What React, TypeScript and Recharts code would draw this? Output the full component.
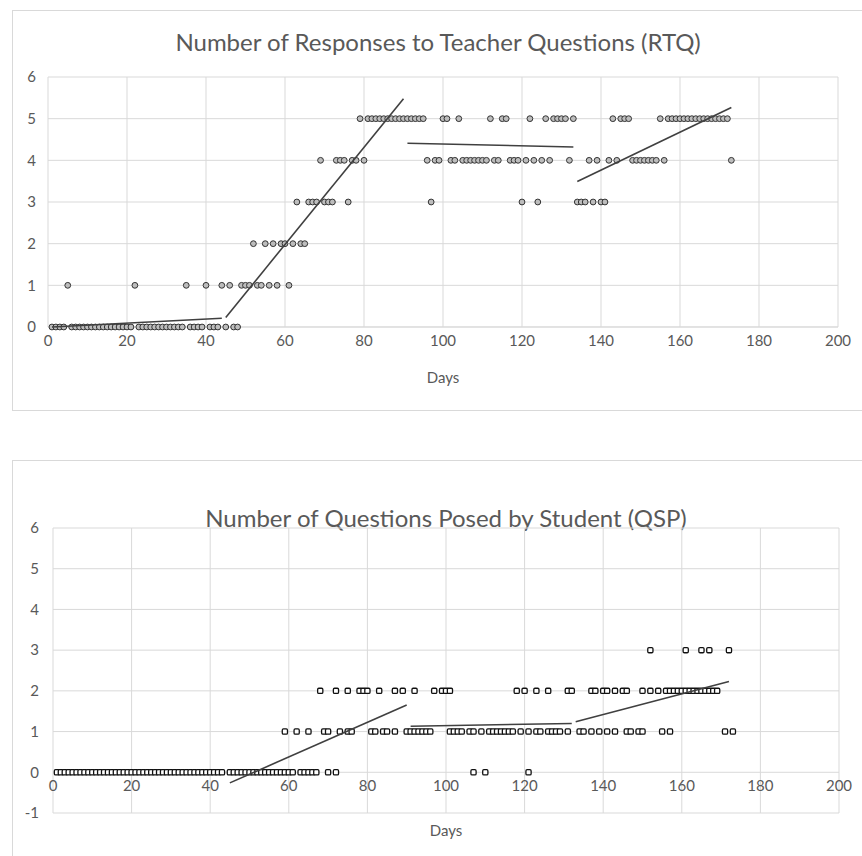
import { CartesianGrid, Scatter, ScatterChart, XAxis, YAxis } from 'recharts'

// x axis (days) shared by both charts
const dayTicks = [0, 20, 40, 60, 80, 100, 120, 140, 160, 180, 200]

// RTQ: days on which each response count was recorded
const rtqTicks = [0, 1, 2, 3, 4, 5, 6]
const rtqZeroDays = [
  1, 2, 3, 4, 6, 7, 8, 9, 10, 11, 12, 13, 14, 15, 16, 17, 18, 19, 20, 21, 23, 24, 25, 26, 27, 28, 29, 30, 31, 32,
  33, 34, 36, 37, 38, 39, 41, 42, 43, 45, 47, 48,
]
const rtqOneDays = [5, 22, 35, 40, 44, 46, 49, 50, 51, 53, 54, 56, 58, 61]
const rtqTwoDays = [52, 55, 57, 59, 60, 62, 64, 65]
const rtqThreeDays = [63, 66, 67, 68, 70, 71, 72, 76, 97, 120, 124, 134, 135, 136, 138, 140, 141]
const rtqFourDays = [
  69, 73, 74, 75, 77, 78, 80, 96, 98, 99, 102, 103, 105, 106, 107, 108, 109, 110, 111, 113, 114, 117, 118, 119, 121,
  123, 125, 127, 132, 137, 139, 142, 144, 148, 149, 150, 151, 152, 153, 154, 156, 173,
]
const rtqFiveDays = [
  79, 81, 82, 83, 84, 85, 86, 87, 88, 89, 90, 91, 92, 93, 94, 95, 100, 101, 104, 112, 115, 116, 122, 126, 128, 129,
  130, 131, 133, 143, 145, 146, 147, 155, 157, 158, 159, 160, 161, 162, 163, 164, 165, 166, 167, 168, 169, 170, 171,
  172,
]
// phase trend lines [day, value] endpoints
const rtqTrends = [
  [[1, 0.0], [44, 0.21]],
  [[45, 0.23], [90, 5.48]],
  [[91, 4.41], [133, 4.32]],
  [[134, 3.49], [173, 5.27]],
]

// QSP
const qspTicks = [-1, 0, 1, 2, 3, 4, 5, 6]
const qspZeroDays = [
  1, 2, 3, 4, 5, 6, 7, 8, 9, 10, 11, 12, 13, 14, 15, 16, 17, 18, 19, 20, 21, 22, 23, 24, 25, 26, 27, 28, 29, 30, 31,
  32, 33, 34, 35, 36, 37, 38, 39, 40, 41, 42, 43, 45, 46, 47, 48, 49, 50, 51, 52, 53, 54, 55, 56, 57, 58, 59, 60,
  61, 63, 64, 65, 66, 67, 70, 72, 107, 110, 121,
]
const qspOneDays = [
  59, 62, 65, 69, 70, 73, 75, 76, 81, 82, 84, 85, 87, 90, 91, 92, 93, 94, 95, 96, 101, 102, 103, 104, 106, 107, 109,
  111, 112, 113, 114, 115, 116, 117, 119, 121, 123, 124, 126, 127, 128, 129, 131, 134, 135, 137, 139, 141, 143, 146,
  147, 149, 150, 155, 157, 171, 173,
]
const qspTwoDays = [
  68, 72, 75, 78, 79, 80, 83, 87, 89, 92, 97, 99, 100, 101, 118, 120, 123, 126, 131, 132, 137, 138, 140, 141, 143,
  145, 146, 150, 152, 154, 156, 157, 158, 159, 160, 161, 162, 163, 164, 165, 166, 167, 168, 169,
]
const qspThreeDays = [152, 161, 165, 167, 172]
const qspTrends = [
  [[45, -0.26], [90, 1.65]],
  [[91, 1.13], [132, 1.2]],
  [[133, 1.24], [172, 2.23]],
]

const toPoints = (levels: number[][]) =>
  levels.flatMap((days, value) => days.map((day) => ({ day, value })))

const rtqPoints = toPoints([rtqZeroDays, rtqOneDays, rtqTwoDays, rtqThreeDays, rtqFourDays, rtqFiveDays])
const qspPoints = toPoints([qspZeroDays, qspOneDays, qspTwoDays, qspThreeDays])
const toTrend = (seg: number[][]) => seg.map(([day, value]) => ({ day, value }))

const FONT = 'Lato, "Open Sans", sans-serif'
const TEXT = '#595959'
const GRID = '#d9d9d9'
const LINE = '#404040'

const tickStyle = { fill: TEXT, fontSize: 15, fontFamily: FONT }

const circleDot = (p: any) => (
  <circle cx={p.cx} cy={p.cy} r={2.9} fill="#bdbdbd" stroke="#333" strokeWidth={1} />
)
const squareDot = (p: any) => (
  <rect x={p.cx - 2.6} y={p.cy - 2.6} width={5.2} height={5.2} rx={1.2} fill="#fff" stroke="#111" strokeWidth={1.3} />
)
const noDot = () => <g />

const panel = (top: number, height: number): React.CSSProperties => ({
  position: 'absolute',
  left: 12,
  top,
  width: 851,
  height,
  border: `1px solid ${GRID}`,
  boxSizing: 'border-box',
  background: '#fff',
})

const titleStyle: React.CSSProperties = {
  position: 'absolute',
  left: 0,
  width: 850,
  textAlign: 'center',
  fontFamily: FONT,
  fontSize: 24,
  color: TEXT,
  lineHeight: '28px',
}

// bottom chart geometry (x labels sit on the y=0 line, one unit above the plot floor)
const QSP_W = 850
const QSP_H = 396
const QSP_MARGIN = { top: 68, right: 23, left: 0, bottom: 7 }
const QSP_XH = 36
const qspUnit =
  (QSP_H - QSP_MARGIN.top - QSP_MARGIN.bottom - QSP_XH) / (qspTicks[qspTicks.length - 1] - qspTicks[0])

const QspDayTick = (p: any) => (
  <text x={p.x} y={p.y - qspUnit} dy="0.71em" textAnchor="middle" {...tickStyle}>
    {p.payload.value}
  </text>
)

export default function App() {
  return (
    <div style={{ position: 'absolute', left: 0, top: 0, width: 862, height: 856, overflow: 'hidden', background: '#fff' }}>
      <div style={panel(10, 401)}>
        <div style={{ ...titleStyle, top: 17 }}>Number of Responses to Teacher Questions (RTQ)</div>
        <div style={{ position: 'absolute', left: -1, top: -1 }}>
          <ScatterChart width={850} height={400} margin={{ top: 67, right: 24, left: 0, bottom: 23 }}>
            <CartesianGrid stroke={GRID} />
            <XAxis
              type="number"
              dataKey="day"
              domain={[0, 200]}
              ticks={dayTicks}
              tickLine={false}
              axisLine={{ stroke: GRID }}
              tick={tickStyle}
              height={60}
              label={{ value: 'Days', position: 'insideBottom', offset: 4, fill: TEXT, fontSize: 15, fontFamily: FONT }}
            />
            <YAxis
              type="number"
              dataKey="value"
              domain={[0, 6]}
              ticks={rtqTicks}
              width={36}
              tickLine={false}
              axisLine={false}
              tickMargin={6}
              tick={tickStyle}
            />
            <Scatter data={rtqPoints} shape={circleDot} isAnimationActive={false} />
            {rtqTrends.map((seg, i) => (
              <Scatter
                key={i}
                data={toTrend(seg)}
                line={{ stroke: LINE, strokeWidth: 1.6 }}
                shape={noDot}
                isAnimationActive={false}
              />
            ))}
          </ScatterChart>
        </div>
      </div>

      <div style={panel(460, 400)}>
        <div style={{ ...titleStyle, top: 43, paddingLeft: 8 }}>Number of Questions Posed by Student (QSP)</div>
        <div style={{ position: 'absolute', left: -1, top: -1 }}>
          <ScatterChart width={QSP_W} height={QSP_H} margin={QSP_MARGIN}>
            <CartesianGrid stroke={GRID} />
            <XAxis
              type="number"
              dataKey="day"
              domain={[0, 200]}
              ticks={dayTicks}
              tickLine={false}
              axisLine={false}
              tick={QspDayTick}
              height={QSP_XH}
              label={{ value: 'Days', position: 'insideBottom', offset: 13, fill: TEXT, fontSize: 15, fontFamily: FONT }}
            />
            <YAxis
              type="number"
              dataKey="value"
              domain={[-1, 6]}
              ticks={qspTicks}
              width={41}
              tickLine={false}
              axisLine={false}
              tickMargin={8}
              tick={tickStyle}
            />
            <Scatter data={qspPoints} shape={squareDot} isAnimationActive={false} />
            {qspTrends.map((seg, i) => (
              <Scatter
                key={i}
                data={toTrend(seg)}
                line={{ stroke: LINE, strokeWidth: 1.6 }}
                shape={noDot}
                isAnimationActive={false}
              />
            ))}
          </ScatterChart>
        </div>
      </div>
    </div>
  )
}
